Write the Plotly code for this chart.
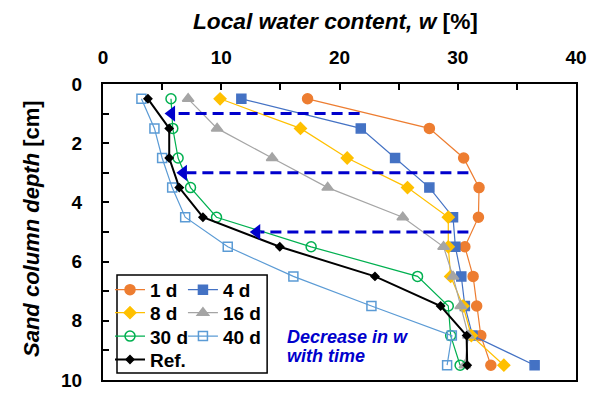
import plotly.graph_objects as go

depth = [0.5, 1.5, 2.5, 3.5, 4.5, 5.5, 6.5, 7.5, 8.5, 9.5]

w_1d = [17.3, 27.6, 30.5, 31.8, 31.75, 30.6, 31.3, 31.6, 31.95, 32.8]
w_4d = [11.7, 21.8, 24.7, 27.6, 29.6, 29.8, 30.3, 30.6, 31.25, 36.5]
w_8d = [9.9, 16.7, 20.65, 25.75, 29.2, 29.2, 29.4, 30.45, 31.15, 33.9]
w_16d = [7.2, 9.65, 14.3, 19.0, 25.35, 28.8, 29.6, 30.25, 30.9, 30.6]
w_30d = [5.75, 5.9, 6.35, 7.4, 9.6, 17.6, 26.6, 29.2, 29.4, 30.2]
w_40d = [3.25, 4.35, 5.0, 5.85, 6.95, 10.55, 16.1, 22.7, 29.5, 29.1]
w_ref = [3.8, 5.6, 5.6, 6.45, 8.45, 14.95, 23.0, 28.55, 30.75, 30.8]

series_names = ["1 d", "4 d", "8 d", "16 d", "30 d", "40 d", "Ref."]

arrow_depth = [1.0, 3.0, 5.0]
arrow_from = [21.7, 30.9, 30.9]
arrow_to = [5.2, 6.2, 12.4]

x_tickvals = [0, 5, 10, 15, 20, 25, 30, 35, 40]
x_ticktext = ["0", "", "10", "", "20", "", "30", "", "40"]
y_tickvals = [0, 1, 2, 3, 4, 5, 6, 7, 8, 9, 10]
y_ticktext = ["0", "", "2", "", "4", "", "6", "", "8", "", "10"]

FONT = "Liberation Sans, Arial, sans-serif"
ARROW_C = "#0000CC"

legend_ids = ["legend", "legend2", "legend3", "legend4", "legend5", "legend6", "legend7"]
legend_x = [0.0148, 0.169, 0.0148, 0.169, 0.0148, 0.169, 0.0148]
legend_y = [0.369, 0.369, 0.291, 0.291, 0.212, 0.212, 0.133]

styles = [
    dict(color="#ED7D31", symbol="circle", size=10, lw=1.2),
    dict(color="#4472C4", symbol="square", size=9, lw=1.2),
    dict(color="#FFC000", symbol="diamond", size=9, lw=1.2),
    dict(color="#A5A5A5", symbol="triangle-up", size=10, lw=1.2),
    dict(color="#00B050", symbol="circle-open", size=10, lw=1.2),
    dict(color="#5B9BD5", symbol="square-open", size=9, lw=1.2),
    dict(color="#000000", symbol="diamond", size=6, lw=2.0),
]
all_w = [w_1d, w_4d, w_8d, w_16d, w_30d, w_40d, w_ref]

fig = go.Figure()
for name, w, st, lg in zip(series_names, all_w, styles, legend_ids):
    fig.add_trace(go.Scatter(
        x=w, y=depth, name=name, mode="lines+markers",
        line=dict(color=st["color"], width=st["lw"]),
        marker=dict(symbol=st["symbol"], size=st["size"], color=st["color"],
                    line=dict(width=1.5, color=st["color"])),
        legend=lg,
    ))

for d, x0, x1 in zip(arrow_depth, arrow_from, arrow_to):
    fig.add_trace(go.Scatter(
        x=[x0, x1 + 0.9], y=[d, d], mode="lines", showlegend=False,
        line=dict(color=ARROW_C, width=3, dash="11px,6px"), hoverinfo="skip",
    ))
    fig.add_trace(go.Scatter(
        x=[x1 + 0.6], y=[d], mode="markers", showlegend=False,
        marker=dict(symbol="triangle-left", size=14, color=ARROW_C), hoverinfo="skip",
    ))

axis_common = dict(showline=True, linewidth=2, linecolor="black", mirror=True,
                   showgrid=False, zeroline=False, ticks="inside", ticklen=6,
                   tickwidth=1.5, tickcolor="black", automargin=False,
                   tickfont=dict(family=FONT, size=19, color="black", weight="bold"))

fig.update_xaxes(range=[0, 40], side="top", tickvals=x_tickvals, ticktext=x_ticktext,
                 ticklabelstandoff=10, **axis_common)
fig.update_yaxes(range=[10, 0], tickvals=y_tickvals, ticktext=y_ticktext,
                 ticklabelstandoff=15, **axis_common)

legend_common = dict(font=dict(family=FONT, size=19, color="black", weight="bold"),
                     bgcolor="rgba(0,0,0,0)", borderwidth=0, yanchor="top",
                     xanchor="left", itemwidth=30)
legend_layout = {lg: dict(x=lx, y=ly, **legend_common)
                 for lg, lx, ly in zip(legend_ids, legend_x, legend_y)}

fig.update_layout(
    width=600, height=394,
    margin=dict(l=95, r=32, t=76, b=22, autoexpand=False),
    plot_bgcolor="white", paper_bgcolor="white",
    shapes=[
        dict(type="rect", xref="paper", yref="paper", x0=0.0296, x1=0.347,
             y0=0.0236, y1=0.355, line=dict(color="black", width=1.5),
             fillcolor="white", layer="above"),
    ],
    annotations=[
        dict(text="<i>Local water content, w</i> [%]", xref="paper", yref="paper",
             x=0.5, y=1, yanchor="middle", xanchor="center", yshift=63, xshift=-4,
             showarrow=False,
             font=dict(family=FONT, size=22.7, color="black", weight="bold")),
        dict(text="<i>Sand column depth</i> [cm]", xref="paper", yref="paper",
             x=0, y=0.5, xanchor="center", yanchor="middle", xshift=-72, yshift=3,
             textangle=-90, showarrow=False,
             font=dict(family=FONT, size=22, color="black", weight="bold")),
        dict(text="<i>Decrease in w</i>", xref="x", yref="y", x=15.4,
             y=8.55, xanchor="left", yanchor="middle", showarrow=False,
             font=dict(family=FONT, size=18, color=ARROW_C, weight="bold")),
        dict(text="<i>with time</i>", xref="x", yref="y", x=15.4, y=9.2,
             xanchor="left", yanchor="middle", showarrow=False,
             font=dict(family=FONT, size=18, color=ARROW_C, weight="bold")),
    ],
)
fig.update_layout(**legend_layout)

fig.write_html("out.html")
